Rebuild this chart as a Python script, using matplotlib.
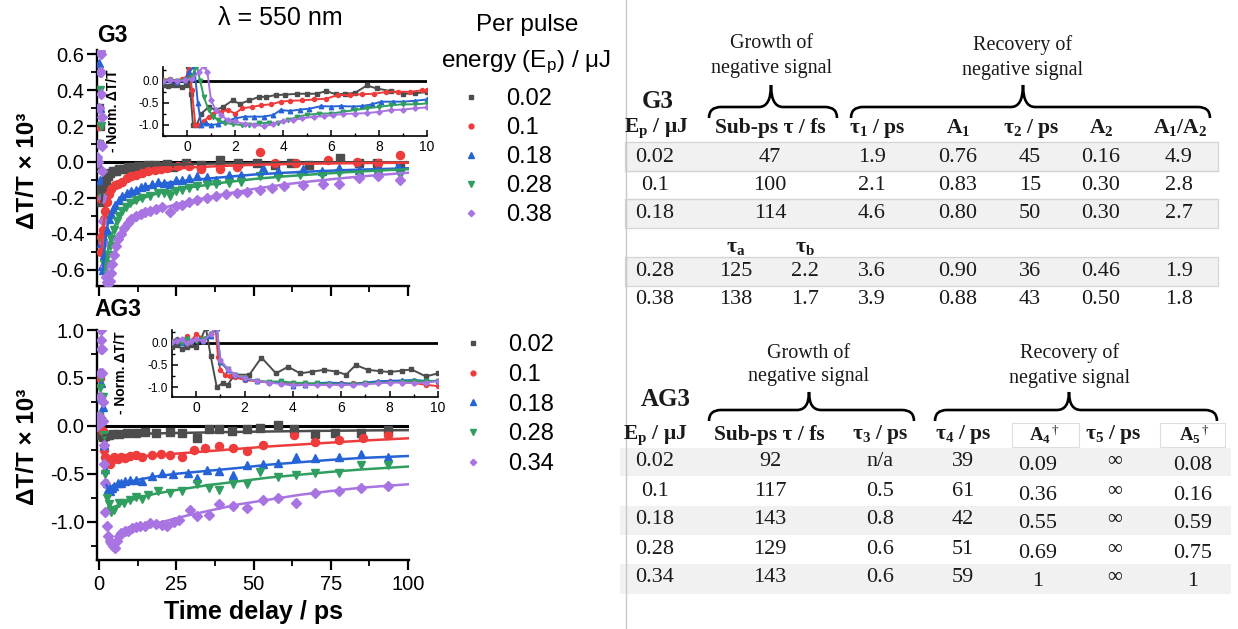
import matplotlib
matplotlib.use("Agg")
import matplotlib.pyplot as plt
from matplotlib.ticker import MultipleLocator, FormatStrFormatter
from matplotlib.patches import Rectangle, PathPatch
from matplotlib.path import Path

# ---------------------------------------------------------------- data
ENERGY_G3 = ["0.02", "0.1", "0.18", "0.28", "0.38"]
ENERGY_AG3 = ["0.02", "0.1", "0.18", "0.28", "0.34"]

# G3, main panel (delay / ps, dT/T x 1e3)
G3_GRAY_T = [-1.0, -0.5, 0.0, 0.2, 0.4, 0.6, 0.8, 1.0, 1.3, 1.7, 2.2, 2.8, 3.5, 4.5, 5.5, 6.5, 8, 9.5, 11, 12.5,
             14, 16, 18, 20, 22, 24, 28, 33, 39, 45, 51, 57, 62, 68, 78, 84, 90, 97.5]
G3_GRAY_V = [-0.01, 0.0, 0.3, 0.62, 0.2, -0.15, -0.22, -0.2, -0.15, -0.12, -0.10, -0.08, -0.06, -0.05, -0.05, -0.04,
             -0.04, -0.03, -0.03, -0.025, -0.02, -0.015, -0.015, -0.02, -0.01, -0.03, -0.005, -0.015, 0.01, -0.005,
             -0.005, -0.015, -0.005, -0.015, 0.02, -0.005, -0.005, -0.02]
G3_RED_T = [-1.0, -0.5, 0.0, 0.2, 0.4, 0.6, 0.8, 1.0, 1.3, 1.6, 2.0, 2.5, 3.2, 4.0, 5.1, 6.3, 7.6, 9, 10.5, 12, 14,
            16, 18, 20, 22, 25.5, 29, 33, 39, 44.6, 52, 57, 63.7, 74, 83.4, 90.4, 97.5]
G3_RED_V = [0.0, 0.01, 0.2, 0.1, -0.2, -0.42, -0.5, -0.45, -0.38, -0.32, -0.27, -0.22, -0.18, -0.15, -0.13, -0.12,
            -0.11, -0.09, -0.08, -0.07, -0.06, -0.05, -0.045, -0.04, -0.035, -0.025, -0.025, -0.04, -0.04, -0.03,
            0.055, -0.005, -0.005, 0.013, 0.0, -0.005, 0.04]
G3_BLUE_T = [-1.0, -0.5, 0.0, 0.2, 0.4, 0.7, 1.0, 1.3, 1.7, 2.1, 2.6, 3.2, 3.8, 4.5, 5.3, 6.4, 7.5, 8.9, 10.5, 12,
             13.5, 15, 17, 19, 21, 23, 25, 26.8, 29, 31.8, 35, 38, 42, 45.9, 52.9, 58, 66, 72, 77.7, 84, 90.4, 96.8]
G3_BLUE_V = [0.0, 0.02, 0.55, 0.3, -0.1, -0.45, -0.58, -0.6, -0.52, -0.44, -0.38, -0.32, -0.29, -0.26, -0.24, -0.21,
             -0.19, -0.17, -0.16, -0.155, -0.14, -0.135, -0.12, -0.11, -0.115, -0.12, -0.1, -0.1, -0.09, -0.08,
             -0.085, -0.1, -0.075, -0.07, -0.035, -0.05, -0.04, -0.05, -0.035, -0.045, -0.045, -0.025]
G3_GREEN_T = [-1.0, -0.5, 0.0, 0.3, 0.6, 0.9, 1.2, 1.6, 2.0, 2.4, 2.9, 3.4, 4.0, 4.8, 5.7, 6.6, 7.6, 8.8, 10, 12, 14,
              16.5, 19, 21, 23, 25, 26.8, 29, 31.8, 35, 38, 42, 45.9, 52, 58, 65, 72, 77.7, 84, 90.4, 97.5]
G3_GREEN_V = [0.0, 0.01, 0.1, 0.4, 0.2, -0.2, -0.45, -0.57, -0.6, -0.57, -0.52, -0.47, -0.43, -0.38, -0.33, -0.3,
              -0.27, -0.25, -0.23, -0.21, -0.2, -0.19, -0.17, -0.175, -0.19, -0.16, -0.155, -0.145, -0.135, -0.13,
              -0.12, -0.115, -0.11, -0.08, -0.085, -0.07, -0.075, -0.06, -0.065, -0.07, -0.07]
G3_PURPLE_T = [-1.0, -0.6, -0.3, 0.0, 0.15, 0.3, 0.4, 0.5, 0.65, 0.8, 0.9, 1.0, 1.1, 1.2, 1.35, 1.5, 1.8, 2.2, 2.6,
               3.0, 3.4, 3.8, 4.3, 4.8, 5.5, 6.3, 7.2, 8.2, 9.3, 10.5, 12, 13.5, 15, 16.6, 18.5, 20.4, 23, 25, 26.8,
               29, 31.8, 35, 38, 41, 44.6, 48, 52, 56, 60, 66, 72.6, 77.7, 84, 90.4, 97.5]
G3_PURPLE_V = [0.02, 0.03, 0.0, 0.1, 0.3, 0.5, 0.62, 0.6, 0.5, 0.38, 0.25, 0.09, -0.05, -0.2, -0.33, -0.45, -0.58,
               -0.64, -0.67, -0.68, -0.66, -0.62, -0.57, -0.52, -0.47, -0.43, -0.4, -0.37, -0.34, -0.32, -0.3, -0.29,
               -0.28, -0.27, -0.26, -0.25, -0.28, -0.245, -0.24, -0.225, -0.21, -0.2, -0.19, -0.18, -0.17, -0.165,
               -0.155, -0.145, -0.135, -0.13, -0.125, -0.125, -0.09, -0.08, -0.1]

# G3 fitted curves
G3_GRAY_FIT_T = [0.8, 1.2, 1.6, 2, 3, 4, 5, 7, 10, 15, 20, 30, 40, 50, 60, 70, 80, 90, 100]
G3_GRAY_FIT_V = [-0.22, -0.16, -0.12, -0.095, -0.07, -0.055, -0.047, -0.038, -0.03, -0.022, -0.017, -0.011, -0.008,
                 -0.006, -0.004, -0.003, -0.002, -0.002, -0.001]
G3_RED_FIT_T = [0.8, 1.2, 1.6, 2, 2.5, 3, 4, 5, 6, 8, 10, 13, 16, 20, 25, 30, 40, 50, 60, 70, 80, 90, 100]
G3_RED_FIT_V = [-0.5, -0.4, -0.33, -0.28, -0.23, -0.2, -0.16, -0.135, -0.12, -0.1, -0.085, -0.07, -0.058, -0.047,
                -0.037, -0.03, -0.022, -0.016, -0.012, -0.009, -0.007, -0.005, -0.004]
G3_BLUE_FIT_T = [1.3, 1.7, 2, 2.5, 3, 4, 5, 6, 8, 10, 13, 16, 20, 25, 30, 40, 50, 60, 70, 80, 90, 100]
G3_BLUE_FIT_V = [-0.6, -0.5, -0.44, -0.38, -0.33, -0.28, -0.25, -0.225, -0.19, -0.17, -0.15, -0.135, -0.12, -0.11,
                 -0.1, -0.085, -0.07, -0.06, -0.052, -0.045, -0.04, -0.035]
G3_GREEN_FIT_T = [2, 2.5, 3, 4, 5, 6, 8, 10, 13, 16, 20, 25, 30, 40, 50, 60, 70, 80, 90, 100]
G3_GREEN_FIT_V = [-0.6, -0.53, -0.48, -0.41, -0.36, -0.32, -0.27, -0.24, -0.21, -0.19, -0.17, -0.155, -0.14, -0.115,
                  -0.095, -0.08, -0.068, -0.057, -0.048, -0.04]
G3_PURPLE_FIT_T = [3, 3.5, 4, 5, 6, 7, 8, 10, 12, 15, 20, 25, 30, 40, 50, 60, 70, 80, 90, 100]
G3_PURPLE_FIT_V = [-0.68, -0.64, -0.6, -0.53, -0.47, -0.43, -0.4, -0.35, -0.32, -0.29, -0.26, -0.235, -0.215, -0.18,
                   -0.15, -0.125, -0.105, -0.088, -0.073, -0.06]

# G3 inset (normalised, first 10 ps)
G3_IN_GRAY_T = [-1.0, -0.8, -0.6, -0.4, -0.2, -0.05, 0.05, 0.15, 0.25, 0.4, 0.6, 0.9, 1.2, 1.5, 1.9, 2.2, 2.6, 3.0,
                3.3, 3.7, 4.1, 4.6, 5.0, 5.4, 5.8, 6.2, 6.6, 7.0, 7.5, 7.9, 8.5, 9.0, 9.5, 10.0]
G3_IN_GRAY_V = [-0.1, -0.12, -0.08, -0.1, -0.13, -0.1, 0.35, -0.3, -1.0, -1.0, -0.74, -0.59, -0.66, -0.59, -0.44,
                -0.52, -0.44, -0.36, -0.36, -0.32, -0.31, -0.29, -0.29, -0.29, -0.23, -0.30, -0.29, -0.27, -0.10,
                -0.17, -0.23, -0.29, -0.28, -0.25]
G3_IN_RED_T = [-1.0, -0.7, -0.4, -0.2, 0.0, 0.1, 0.2, 0.35, 0.5, 0.7, 0.9, 1.1, 1.4, 1.7, 2.0, 2.3, 2.7, 3.1, 3.5,
               3.9, 4.3, 4.8, 5.3, 5.8, 6.3, 6.8, 7.3, 7.8, 8.3, 8.8, 9.3, 9.8, 10.0]
G3_IN_RED_V = [0.02, 0.05, 0.0, 0.05, 0.1, 0.4, -0.2, -1.0, -1.0, -0.92, -0.81, -0.74, -0.7, -0.66, -0.74, -0.62,
               -0.59, -0.55, -0.53, -0.47, -0.45, -0.44, -0.42, -0.40, -0.32, -0.32, -0.30, -0.29, -0.25, -0.24,
               -0.25, -0.21, -0.2]
G3_IN_BLUE_T = [-1.0, -0.7, -0.4, -0.1, 0.1, 0.3, 0.45, 0.6, 0.8, 1.0, 1.3, 1.6, 2.0, 2.4, 2.8, 3.2, 3.6, 3.9, 4.3,
                4.7, 5.1, 5.6, 6.0, 6.4, 6.9, 7.3, 7.7, 8.1, 8.6, 9.0, 9.5, 10.0]
G3_IN_BLUE_V = [0.0, 0.03, -0.02, 0.02, 0.2, 0.35, -0.5, -1.0, -0.96, -1.0, -0.98, -0.92, -0.85, -0.81, -0.81, -0.81,
                -0.77, -0.66, -0.68, -0.65, -0.63, -0.57, -0.58, -0.57, -0.58, -0.57, -0.53, -0.47, -0.47, -0.47,
                -0.45, -0.42]
G3_IN_GREEN_T = [-1.0, -0.7, -0.4, -0.1, 0.2, 0.4, 0.55, 0.7, 0.9, 1.1, 1.3, 1.6, 1.9, 2.3, 2.6, 3.0, 3.4, 3.8, 4.2,
                 4.6, 5.0, 5.5, 6.0, 6.5, 7.0, 7.5, 8.0, 8.5, 9.0, 9.5, 10.0]
G3_IN_GREEN_V = [0.0, 0.02, 0.0, 0.03, 0.1, 0.35, 0.0, -0.36, -0.66, -0.81, -0.89, -0.95, -0.98, -1.0, -1.0, -0.96,
                 -0.95, -0.96, -0.89, -0.81, -0.77, -0.74, -0.74, -0.7, -0.66, -0.62, -0.59, -0.55, -0.53, -0.53,
                 -0.51]
G3_IN_PURPLE_T = [-1.0, -0.7, -0.4, -0.1, 0.2, 0.5, 0.7, 0.85, 1.0, 1.2, 1.4, 1.7, 2.0, 2.4, 2.8, 3.2, 3.6, 4.0,
                  4.4, 4.8, 5.3, 5.7, 6.1, 6.5, 7.0, 7.5, 8.0, 8.5, 9.0, 9.5, 10.0]
G3_IN_PURPLE_V = [0.0, 0.02, 0.0, 0.02, 0.05, 0.2, 0.35, 0.2, -0.44, -0.66, -0.77, -0.89, -0.92, -0.98, -1.0,
                  -1.02, -0.98, -0.9, -0.89, -0.85, -0.81, -0.8, -0.77, -0.75, -0.74, -0.73, -0.70, -0.66, -0.65,
                  -0.62, -0.6]

# AG3, main panel
AG3_GRAY_T = [-1, -0.5, 0, 0.3, 0.5, 0.8, 1.2, 1.9, 2.5, 3.2, 4.5, 6.4, 8.9, 12, 15, 18.5, 23, 26.8, 31.8, 35.7,
              38.9, 43, 47.8, 52.2, 58, 63, 70, 76.4, 84.7, 93.6]
AG3_GRAY_V = [0.02, 0.05, 0.1, 0.3, 0.05, -0.1, -0.12, -0.11, -0.1, -0.094, -0.09, -0.083, -0.076, -0.07, -0.06,
              -0.07, -0.06, -0.076, -0.13, -0.035, -0.035, -0.05, -0.035, -0.024, 0.01, -0.035, -0.083, -0.07,
              -0.07, -0.04]
AG3_RED_T = [-1, -0.5, 0, 0.4, 0.8, 1.2, 1.6, 2.0, 2.5, 3.0, 3.5, 4.2, 5, 6, 7, 8.5, 10, 12, 14, 17, 20, 23, 26.8,
             30.6, 34.4, 38.9, 43.3, 47.8, 52.9, 63, 70, 77.7, 85.4, 93.6]
AG3_RED_V = [0.03, 0.05, 0.1, 0.5, 0.3, -0.05, -0.25, -0.32, -0.35, -0.38, -0.4, -0.36, -0.33, -0.35, -0.32, -0.34,
             -0.31, -0.3, -0.32, -0.3, -0.29, -0.3, -0.32, -0.25, -0.23, -0.215, -0.23, -0.26, -0.2, -0.1, -0.17,
             -0.15, -0.13, -0.094]
AG3_BLUE_T = [-1, -0.5, 0, 0.4, 0.8, 1.2, 1.6, 2.0, 2.5, 3.0, 3.5, 4.2, 5, 6, 7, 8.5, 10, 12, 14, 17, 20.4, 24,
              28.7, 31.8, 35, 38.9, 43.3, 47.8, 52.9, 58, 63.7, 70, 77.7, 84.7, 93.6]
AG3_BLUE_V = [0.05, 0.08, 0.05, 0.3, 0.45, 0.2, -0.2, -0.45, -0.6, -0.66, -0.68, -0.65, -0.63, -0.6, -0.6, -0.58,
              -0.57, -0.56, -0.58, -0.52, -0.49, -0.5, -0.49, -0.545, -0.46, -0.47, -0.51, -0.41, -0.4, -0.39,
              -0.32, -0.34, -0.32, -0.29, -0.32]
AG3_GREEN_T = [-1, -0.5, 0, 0.4, 0.8, 1.2, 1.6, 2.0, 2.5, 3.2, 4.0, 5, 6.4, 8, 10, 12, 14, 16, 19, 23, 26.8, 31.8,
               35.7, 38.9, 43.3, 47.8, 52.2, 58, 63.7, 70, 77.7, 84.7, 93.6]
AG3_GREEN_V = [0.02, 0.05, 0.1, 0.4, 0.5, 0.3, -0.1, -0.5, -0.75, -0.82, -0.9, -0.88, -0.8, -0.8, -0.77, -0.74,
               -0.76, -0.72, -0.68, -0.7, -0.68, -0.61, -0.65, -0.67, -0.61, -0.61, -0.48, -0.53, -0.51, -0.49,
               -0.49, -0.41, -0.41]
AG3_PURPLE_T = [-1, -0.6, -0.3, 0, 0.2, 0.35, 0.5, 0.6, 0.75, 0.9, 1.05, 1.2, 1.35, 1.5, 1.65, 1.8, 2.1, 2.5, 3.0,
                3.5, 4.0, 4.6, 5.2, 5.8, 6.4, 7.2, 8.3, 9.5, 10.8, 12, 13.4, 15, 16.6, 18.5, 20.4, 22, 24.2, 26,
                29.3, 31.8, 35.7, 38.9, 43.3, 47.8, 52.9, 58, 63.7, 70, 77.7, 84.7, 93.6]
AG3_PURPLE_V = [0.02, 0.0, 0.05, 0.1, 0.3, 0.55, 0.8, 1.0, 0.9, 0.8, 0.55, 0.25, 0.05, -0.2, -0.4, -0.6, -0.9,
                -1.05, -1.15, -1.2, -1.22, -1.25, -1.27, -1.2, -1.15, -1.12, -1.1, -1.1, -1.07, -1.06, -1.05, -1.04,
                -1.01, -1.02, -1.03, -1.05, -1.0, -0.98, -0.875, -0.94, -0.93, -0.82, -0.84, -0.86, -0.77, -0.75,
                -0.8, -0.7, -0.68, -0.65, -0.63]

# AG3 fitted curves
AG3_GRAY_FIT_T = [1.5, 5, 10, 20, 30, 40, 50, 60, 70, 80, 90, 100]
AG3_GRAY_FIT_V = [-0.1, -0.09, -0.085, -0.078, -0.072, -0.066, -0.061, -0.057, -0.053, -0.05, -0.047, -0.045]
AG3_RED_FIT_T = [2, 4, 8, 12, 17, 25, 35, 45, 55, 65, 75, 85, 100]
AG3_RED_FIT_V = [-0.33, -0.34, -0.33, -0.32, -0.31, -0.29, -0.265, -0.24, -0.215, -0.195, -0.175, -0.155, -0.13]
AG3_BLUE_FIT_T = [2.5, 3, 4, 6, 9, 13, 18, 25, 35, 45, 55, 65, 75, 85, 100]
AG3_BLUE_FIT_V = [-0.62, -0.66, -0.65, -0.62, -0.59, -0.56, -0.53, -0.5, -0.47, -0.44, -0.405, -0.38, -0.355,
                  -0.335, -0.315]
AG3_GREEN_FIT_T = [3, 4, 6, 9, 13, 18, 25, 35, 45, 55, 65, 75, 85, 100]
AG3_GREEN_FIT_V = [-0.85, -0.86, -0.83, -0.79, -0.75, -0.71, -0.67, -0.62, -0.58, -0.54, -0.51, -0.48, -0.455,
                   -0.425]
AG3_PURPLE_FIT_T = [4, 5, 6, 8, 10, 13, 17, 22, 28, 35, 45, 55, 65, 75, 85, 100]
AG3_PURPLE_FIT_V = [-1.22, -1.2, -1.17, -1.13, -1.1, -1.07, -1.03, -0.99, -0.94, -0.89, -0.82, -0.77, -0.72, -0.68,
                    -0.645, -0.61]

# AG3 inset (normalised)
AG3_IN_GRAY_T = [-1.0, -0.8, -0.6, -0.4, -0.2, 0.0, 0.2, 0.4, 0.6, 0.85, 1.1, 1.3, 1.6, 2.2, 2.7, 3.3, 3.8, 4.3,
                 4.8, 5.3, 5.8, 6.2, 6.6, 7.1, 7.6, 8.0, 8.5, 8.9, 9.5, 10.0]
AG3_IN_GRAY_V = [-0.1, -0.05, -0.13, -0.08, -0.05, -0.1, 0.1, 0.35, -0.3, -1.0, -0.91, -0.95, -0.72, -0.72, -0.33,
                 -0.69, -0.54, -0.69, -0.65, -0.61, -0.65, -0.72, -0.5, -0.61, -0.64, -0.66, -0.63, -0.6, -0.76,
                 -0.69]
AG3_IN_RED_T = [-1.0, -0.8, -0.6, -0.4, -0.2, 0.0, 0.3, 0.6, 0.8, 0.9, 1.0, 1.2, 1.4, 1.6, 2.0, 2.5, 3.0, 3.5, 4.0,
                4.5, 5.0, 5.5, 6.0, 6.5, 7.0, 7.5, 8.0, 8.5, 9.0, 9.5, 10.0]
AG3_IN_RED_V = [0.05, 0.1, 0.02, 0.15, 0.05, 0.2, 0.1, 0.2, 0.35, -0.31, -0.61, -0.72, -0.76, -0.78, -0.84, -0.87,
                -0.9, -0.9, -0.91, -0.92, -0.93, -0.93, -0.92, -0.92, -0.9, -0.89, -0.87, -0.9, -0.91, -0.95, -0.98]
AG3_IN_T = [-1.0, -0.8, -0.6, -0.4, -0.2, 0.0, 0.3, 0.6, 0.85, 1.0, 1.3, 1.6, 2.0, 2.5, 3.0, 3.5, 4.0, 4.5, 5.0,
            5.5, 6.0, 6.5, 7.0, 7.5, 8.0, 8.5, 9.0, 9.5, 10.0]
AG3_IN_BLUE_V = [0.05, 0.08, 0.0, 0.1, 0.05, 0.1, 0.05, 0.15, 0.35, -0.43, -0.61, -0.72, -0.81, -0.86, -0.89, -0.91,
                 -0.97, -0.95, -0.91, -0.9, -0.91, -0.93, -0.9, -0.87, -0.86, -0.85, -0.84, -0.86, -0.86]
AG3_IN_GREEN_V = [0.02, 0.05, 0.0, 0.08, 0.03, 0.05, 0.1, 0.2, 0.35, -0.41, -0.6, -0.72, -0.8, -0.86, -0.88, -0.87,
                  -0.9, -0.91, -0.92, -0.93, -0.95, -0.94, -0.92, -0.9, -0.9, -0.88, -0.86, -0.87, -0.86]
AG3_IN_PURPLE_V = [0.02, 0.05, 0.08, 0.0, 0.05, 0.1, 0.05, 0.2, 0.35, -0.39, -0.58, -0.72, -0.8, -0.86, -0.9, -0.93,
                   -0.95, -0.95, -0.96, -0.95, -0.95, -0.95, -0.94, -0.92, -0.9, -0.9, -0.91, -0.9, -0.87]

# tables
G3_TAB_EP = ["0.02", "0.1", "0.18", "0.28", "0.38"]
G3_TAB_SUBPS = ["47", "100", "114", "", ""]
G3_TAB_TAU_A = ["", "", "", "125", "138"]
G3_TAB_TAU_B = ["", "", "", "2.2", "1.7"]
G3_TAB_TAU1 = ["1.9", "2.1", "4.6", "3.6", "3.9"]
G3_TAB_A1 = ["0.76", "0.83", "0.80", "0.90", "0.88"]
G3_TAB_TAU2 = ["45", "15", "50", "36", "43"]
G3_TAB_A2 = ["0.16", "0.30", "0.30", "0.46", "0.50"]
G3_TAB_RATIO = ["4.9", "2.8", "2.7", "1.9", "1.8"]

AG3_TAB_EP = ["0.02", "0.1", "0.18", "0.28", "0.34"]
AG3_TAB_SUBPS = ["92", "117", "143", "129", "143"]
AG3_TAB_TAU3 = ["n/a", "0.5", "0.8", "0.6", "0.6"]
AG3_TAB_TAU4 = ["39", "61", "42", "51", "59"]
AG3_TAB_A4 = ["0.09", "0.36", "0.55", "0.69", "1"]
AG3_TAB_TAU5 = ["\u221e", "\u221e", "\u221e", "\u221e", "\u221e"]
AG3_TAB_A5 = ["0.08", "0.16", "0.59", "0.75", "1"]

# ---------------------------------------------------------------- style
COLORS = ["#4d4d4d", "#ee3b3b", "#2563d6", "#2f9e5f", "#a874e2"]
MARKERS = ["s", "o", "^", "v", "D"]
SIZES = [5.2, 5.8, 6.4, 6.4, 5.4]
SERIF = "Liberation Serif"
MU = "\u03bc"
TAU = "\u03c4"

W, H = 1238, 629

plt.rcParams.update({
    "font.family": "Liberation Sans",
    "axes.unicode_minus": False,
    "mathtext.fontset": "custom",
    "mathtext.rm": SERIF,
    "mathtext.it": SERIF + ":italic",
    "mathtext.bf": SERIF + ":bold",
    "mathtext.sf": "Liberation Sans",
})


def px_rect(left, top, right, bottom):
    return [left / W, 1 - bottom / H, (right - left) / W, (bottom - top) / H]


def style_main(ax, ylim, ymaj, ymin):
    ax.set_facecolor("none")
    ax.set_xlim(-0.65, 100.3)
    ax.set_ylim(*ylim)
    for side in ["top", "right"]:
        ax.spines[side].set_visible(False)
    for side in ["left", "bottom"]:
        ax.spines[side].set_linewidth(1.7)
    ax.xaxis.set_major_locator(MultipleLocator(25))
    ax.xaxis.set_minor_locator(MultipleLocator(12.5))
    ax.yaxis.set_major_locator(MultipleLocator(ymaj))
    ax.yaxis.set_minor_locator(MultipleLocator(ymin))
    ax.yaxis.set_major_formatter(FormatStrFormatter("%.1f"))
    ax.tick_params(which="major", direction="out", length=7, width=1.6, labelsize=14.5, pad=2)
    ax.tick_params(axis="x", which="major", pad=4)
    ax.tick_params(which="minor", direction="out", length=4, width=1.3)
    ax.axhline(0, color="black", lw=2.2, zorder=1)
    ax.set_ylabel("\u0394T/T \u00d7 10\u00b3", fontsize=17.5, fontweight="bold")
    ax.yaxis.set_label_coords(-0.185, 0.49)


def style_inset(ax, ylim, label_xy):
    ax.set_facecolor("none")
    ax.set_xlim(-1, 10)
    ax.set_ylim(*ylim)
    for side in ["top", "right"]:
        ax.spines[side].set_visible(False)
    for side in ["left", "bottom"]:
        ax.spines[side].set_linewidth(1.2)
    ax.xaxis.set_major_locator(MultipleLocator(2))
    ax.xaxis.set_minor_locator(MultipleLocator(1))
    ax.yaxis.set_major_locator(MultipleLocator(0.5))
    ax.yaxis.set_minor_locator(MultipleLocator(0.25))
    ax.yaxis.set_major_formatter(FormatStrFormatter("%.1f"))
    ax.tick_params(which="major", direction="in", length=4, width=1.1, pad=3)
    ax.tick_params(which="minor", direction="in", length=2.5, width=1.0)
    ax.tick_params(axis="x", labelsize=10)
    ax.tick_params(axis="y", labelsize=8.5)
    ax.axhline(0, color="black", lw=2, zorder=1)
    ax.set_ylabel("- Norm. \u0394T/T", fontsize=10, fontweight="bold")
    ax.yaxis.set_label_coords(*label_xy)


def brace(ax, x0, x1, xm, y_tip, y_mid, y_end, r=12):
    verts = [(x0, y_end), (x0, y_mid), (x0 + r, y_mid),
             (xm - r, y_mid), (xm, y_mid), (xm, y_tip),
             (xm, y_mid), (xm + r, y_mid),
             (x1 - r, y_mid), (x1, y_mid), (x1, y_end)]
    codes = [Path.MOVETO, Path.CURVE3, Path.CURVE3,
             Path.LINETO, Path.CURVE3, Path.CURVE3,
             Path.CURVE3, Path.CURVE3,
             Path.LINETO, Path.CURVE3, Path.CURVE3]
    ax.add_patch(PathPatch(Path(verts, codes), fc="none", ec="black", lw=1.9))


fig = plt.figure(figsize=(W / 100, H / 100), dpi=100)

# overlay in pixel coordinates for the tables
ov = fig.add_axes([0, 0, 1, 1])
ov.set_xlim(0, W)
ov.set_ylim(H, 0)
ov.axis("off")

# ---------------------------------------------------------------- plots
ax_g3 = fig.add_axes(px_rect(97, 50, 409, 286))
ax_ag3 = fig.add_axes(px_rect(97, 330, 409, 560))
in_g3 = fig.add_axes(px_rect(163, 67, 427, 136))
in_ag3 = fig.add_axes(px_rect(172, 330, 438, 397))

style_main(ax_g3, (-0.69, 0.623), 0.2, 0.1)
style_main(ax_ag3, (-1.4, 1.0), 0.5, 0.25)
ax_g3.tick_params(axis="x", labelbottom=False)
ax_ag3.set_xlabel("Time delay / ps", fontsize=18, fontweight="bold", labelpad=4)
style_inset(in_g3, (-1.25, 0.318), (-0.163, 0.36))
style_inset(in_ag3, (-1.227, 0.295), (-0.165, 0.36))

g3_data = [(G3_GRAY_T, G3_GRAY_V), (G3_RED_T, G3_RED_V), (G3_BLUE_T, G3_BLUE_V),
           (G3_GREEN_T, G3_GREEN_V), (G3_PURPLE_T, G3_PURPLE_V)]
g3_fits = [(G3_GRAY_FIT_T, G3_GRAY_FIT_V), (G3_RED_FIT_T, G3_RED_FIT_V), (G3_BLUE_FIT_T, G3_BLUE_FIT_V),
           (G3_GREEN_FIT_T, G3_GREEN_FIT_V), (G3_PURPLE_FIT_T, G3_PURPLE_FIT_V)]
g3_inset = [(G3_IN_GRAY_T, G3_IN_GRAY_V), (G3_IN_RED_T, G3_IN_RED_V), (G3_IN_BLUE_T, G3_IN_BLUE_V),
            (G3_IN_GREEN_T, G3_IN_GREEN_V), (G3_IN_PURPLE_T, G3_IN_PURPLE_V)]
ag3_data = [(AG3_GRAY_T, AG3_GRAY_V), (AG3_RED_T, AG3_RED_V), (AG3_BLUE_T, AG3_BLUE_V),
            (AG3_GREEN_T, AG3_GREEN_V), (AG3_PURPLE_T, AG3_PURPLE_V)]
ag3_fits = [(AG3_GRAY_FIT_T, AG3_GRAY_FIT_V), (AG3_RED_FIT_T, AG3_RED_FIT_V), (AG3_BLUE_FIT_T, AG3_BLUE_FIT_V),
            (AG3_GREEN_FIT_T, AG3_GREEN_FIT_V), (AG3_PURPLE_FIT_T, AG3_PURPLE_FIT_V)]
ag3_inset = [(AG3_IN_GRAY_T, AG3_IN_GRAY_V), (AG3_IN_RED_T, AG3_IN_RED_V), (AG3_IN_T, AG3_IN_BLUE_V),
             (AG3_IN_T, AG3_IN_GREEN_V), (AG3_IN_T, AG3_IN_PURPLE_V)]

for ax, inset, data, fits, in_data, labels, anchor, spacing in [
        (ax_g3, in_g3, g3_data, g3_fits, g3_inset, ENERGY_G3, (459, 88), 0.3),
        (ax_ag3, in_ag3, ag3_data, ag3_fits, ag3_inset, ENERGY_AG3, (461, 334), 0.33)]:
    handles = []
    for i in range(5):
        col = COLORS[i]
        h, = ax.plot(data[i][0], data[i][1], ls="none", marker=MARKERS[i], ms=SIZES[i],
                     color=col, mec=col, zorder=3)
        ax.plot(fits[i][0], fits[i][1], color=col, lw=1.8, zorder=4)
        inset.plot(in_data[i][0], in_data[i][1], color=col, lw=1.4, marker=MARKERS[i],
                   ms=SIZES[i] * 0.5, mec=col, zorder=3 + i * 0.1)
        handles.append(h)
    ax.legend(handles, labels, loc="upper left", bbox_to_anchor=(anchor[0] / W, 1 - anchor[1] / H),
              bbox_transform=fig.transFigure, frameon=False, fontsize=17, markerscale=0.6,
              handlelength=1.0, handletextpad=1.0, labelspacing=spacing, borderpad=0, borderaxespad=0)

fig.text(280 / W, 1 - 18 / H, "\u03bb = 550 nm", fontsize=18, ha="center", va="center")
fig.text(97 / W, 1 - 35 / H, "G3", fontsize=16.5, fontweight="bold", ha="left", va="center")
fig.text(94 / W, 1 - 310 / H, "AG3", fontsize=16.5, fontweight="bold", ha="left", va="center")
fig.text(527 / W, 1 - 25 / H, "Per pulse", fontsize=17.5, ha="center", va="center")
fig.text(526 / W, 1 - 62 / H, "energy (E$_\\mathsf{p}$) / " + MU + "J", fontsize=17.5, ha="center", va="center")

# ---------------------------------------------------------------- tables
ov.axvline(626, color="#c8c8c8", lw=1.0)

SHADE = "#f1f1f1"
EDGE = "#d4d4d4"
for top, bot in [(142, 171), (199, 228), (257, 286)]:
    ov.add_patch(Rectangle((625, top), 593, bot - top, fc=SHADE, ec=EDGE, lw=0.9))
ov.plot([625, 1218], [171, 171], color=EDGE, lw=0.9)
ov.plot([625, 1218], [199, 199], color=EDGE, lw=0.9)
for top, bot in [(448, 476), (506, 535), (564, 594)]:
    ov.add_patch(Rectangle((620, top), 611, bot - top, fc=SHADE, ec="none"))
for left, right in [(1012, 1079), (1160, 1225)]:
    ov.add_patch(Rectangle((left, 423), right - left, 24, fc="white", ec="#dddddd", lw=0.8))

txt = dict(family=SERIF, ha="center", va="center", color="#1a1a1a")
group_fs = 14.5
ov.text(772, 43, "Growth of", fontsize=group_fs, **txt)
ov.text(772, 68, "negative signal", fontsize=group_fs, **txt)
ov.text(1023, 45, "Recovery of", fontsize=group_fs, **txt)
ov.text(1023, 70, "negative signal", fontsize=group_fs, **txt)
brace(ov, 709, 837, 771, 85, 107, 118)
brace(ov, 851, 1210, 1023, 85, 107, 118)

ov.text(809, 353, "Growth of", fontsize=group_fs, **txt)
ov.text(809, 377, "negative signal", fontsize=group_fs, **txt)
ov.text(1070, 353, "Recovery of", fontsize=group_fs, **txt)
ov.text(1070, 378, "negative signal", fontsize=group_fs, **txt)
brace(ov, 709, 914, 809, 392, 410, 421)
brace(ov, 935, 1217, 1069, 392, 410, 421)

ov.text(658, 101, "G3", fontsize=18, fontweight="bold", **txt)
ov.text(666, 400, "AG3", fontsize=18, fontweight="bold", **txt)

hdr_fs = 15.5
val_fs = 16
g3_headers = [(656, "E$_\\mathbf{p}$ / " + MU + "J"), (770, "Sub-ps " + TAU + " / fs"),
              (877, TAU + "$_\\mathbf{1}$ / ps"), (958, "A$_\\mathbf{1}$"), (1031, TAU + "$_\\mathbf{2}$ / ps"),
              (1101, "A$_\\mathbf{2}$"), (1180, "A$_\\mathbf{1}$/A$_\\mathbf{2}$")]
for x, s in g3_headers:
    ov.text(x, 128, s, fontsize=hdr_fs, fontweight="bold", **txt)
ov.text(736, 247, TAU + "$_\\mathbf{a}$", fontsize=hdr_fs, fontweight="bold", **txt)
ov.text(805, 247, TAU + "$_\\mathbf{b}$", fontsize=hdr_fs, fontweight="bold", **txt)

g3_rows_y = [157, 185, 213, 272, 300]
g3_cols = [(655, G3_TAB_EP), (770, G3_TAB_SUBPS), (736, G3_TAB_TAU_A), (805, G3_TAB_TAU_B),
           (872, G3_TAB_TAU1), (958, G3_TAB_A1), (1030, G3_TAB_TAU2), (1101, G3_TAB_A2), (1179, G3_TAB_RATIO)]
for x, col in g3_cols:
    for y, s in zip(g3_rows_y, col):
        if s:
            ov.text(x, y, s, fontsize=val_fs, **txt)

ag3_headers = [(655, "E$_\\mathbf{p}$ / " + MU + "J", hdr_fs), (769, "Sub-ps " + TAU + " / fs", hdr_fs),
               (880, TAU + "$_\\mathbf{3}$ / ps", hdr_fs), (963, TAU + "$_\\mathbf{4}$ / ps", hdr_fs),
               (1044, "A$_\\mathbf{4}{}^\\dagger$", 13.5), (1113, TAU + "$_\\mathbf{5}$ / ps", hdr_fs),
               (1194, "A$_\\mathbf{5}{}^\\dagger$", 13.5)]
for x, s, fs in ag3_headers:
    ov.text(x, 435, s, fontsize=fs, fontweight="bold", **txt)

ag3_rows_y = [462, 491, 520, 549, 578]
ag3_cols = [(655, AG3_TAB_EP, 0, val_fs), (770, AG3_TAB_SUBPS, 0, val_fs), (880, AG3_TAB_TAU3, 0, val_fs),
            (963, AG3_TAB_TAU4, 0, val_fs), (1038, AG3_TAB_A4, 4, val_fs), (1115, AG3_TAB_TAU5, 0, 15),
            (1193, AG3_TAB_A5, 4, val_fs)]
for x, col, dy, fs in ag3_cols:
    for y, s in zip(ag3_rows_y, col):
        ov.text(x, y + dy, s, fontsize=fs, **txt)

fig.savefig("out.png", dpi=100)
